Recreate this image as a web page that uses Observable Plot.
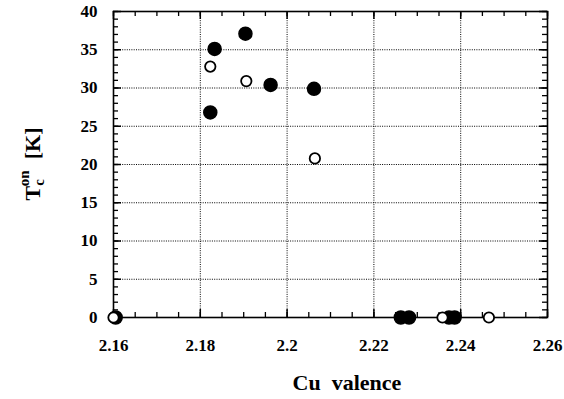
<!DOCTYPE html>
<html>
<head>
<meta charset="utf-8">
<script src="https://cdn.jsdelivr.net/npm/d3@7"></script>
<script src="https://cdn.jsdelivr.net/npm/@observablehq/plot@0.6"></script>
<style>
  html, body { margin: 0; padding: 0; background: white; }
  svg { display: block; }
  svg text, svg tspan { font-family: "Liberation Serif", "Times New Roman", serif !important; }
</style>
</head>
<body>
<div id="chart"></div>
<script>
// ---- data ----
const filledX = [2.1605, 2.1823, 2.1833, 2.1904, 2.1962, 2.2062, 2.2262, 2.2281, 2.2373, 2.2386];
const filledY = [0, 26.8, 35.1, 37.1, 30.4, 29.9, 0, 0, 0, 0];
const openX = [2.1600, 2.1823, 2.1906, 2.2064, 2.2358, 2.2465];
const openY = [0, 32.8, 30.9, 20.8, 0, 0];

const xMajorTicks = [2.16, 2.18, 2.2, 2.22, 2.24, 2.26];
const xTickLabels = ["2.16", "2.18", "2.2", "2.22", "2.24", "2.26"];
const xMinorTicks = d3.range(0, 21).map(i => +(2.16 + i * 0.005).toFixed(3));
const yMajorTicks = [0, 5, 10, 15, 20, 25, 30, 35, 40];
const yTickLabels = ["0", "5", "10", "15", "20", "25", "30", "35", "40"];
const yMinorTicks = d3.range(0, 41);
const xGrid = [2.18, 2.2, 2.22, 2.24];
const yGrid = [5, 10, 15, 20, 25, 30, 35];

const filled = filledX.map((x, i) => ({x, y: filledY[i]}));
const open = openX.map((x, i) => ({x, y: openY[i]}));

// ---- layout ----
const W = 564, H = 399, mT = 11, mB = 82, mL = 113, mR = 17;
const innerH = H - mT - mB, innerW = W - mL - mR;
const font = "Liberation Serif";
const gridStyle = {stroke: "#000", strokeOpacity: 1, strokeWidth: 1, strokeDasharray: "1,1.3"};

const plot = Plot.plot({
  width: W, height: H,
  marginTop: mT, marginBottom: mB, marginLeft: mL, marginRight: mR,
  x: {domain: [2.16, 2.26]},
  y: {domain: [0, 40]},
  style: {background: "white", color: "black"},
  marks: [
    Plot.ruleX(xGrid, gridStyle),
    Plot.ruleY(yGrid, gridStyle),
    // minor ticks (inward)
    Plot.ruleX(xMinorTicks, {stroke: "black", strokeWidth: 1.3, insetTop: innerH - 5}),
    Plot.ruleX(xMinorTicks, {stroke: "black", strokeWidth: 1.3, insetBottom: innerH - 5}),
    Plot.ruleX(xMajorTicks, {stroke: "black", strokeWidth: 1.5, insetTop: innerH - 8}),
    Plot.ruleX(xMajorTicks, {stroke: "black", strokeWidth: 1.5, insetBottom: innerH - 8}),
    Plot.ruleY(yMinorTicks, {stroke: "black", strokeWidth: 1.3, insetRight: innerW - 5}),
    Plot.ruleY(yMinorTicks, {stroke: "black", strokeWidth: 1.3, insetLeft: innerW - 5}),
    Plot.ruleY(yMajorTicks, {stroke: "black", strokeWidth: 1.5, insetRight: innerW - 8}),
    Plot.ruleY(yMajorTicks, {stroke: "black", strokeWidth: 1.5, insetLeft: innerW - 8}),
    // tick labels
    Plot.axisX({ticks: xMajorTicks, tickSize: 0, tickPadding: 21, fontSize: 17, fontWeight: "bold",
      tickFormat: d => xTickLabels[xMajorTicks.findIndex(t => Math.abs(t - d) < 1e-9)], label: null}),
    Plot.axisY({ticks: yMajorTicks, tickSize: 0, tickPadding: 16, fontSize: 17, fontWeight: "bold",
      tickFormat: d => yTickLabels[yMajorTicks.indexOf(d)], label: null}),
    Plot.frame({stroke: "black", strokeWidth: 1.6}),
    Plot.dot(filled, {x: "x", y: "y", r: 6.5, fill: "black", stroke: "black"}),
    Plot.dot(open, {x: "x", y: "y", r: 5.2, fill: "white", stroke: "black", strokeWidth: 1.8})
  ]
});

const svg = d3.select(plot.tagName === "svg" ? plot : plot.querySelector("svg"));
svg.attr("font-family", font);
// x label
svg.append("text")
  .attr("x", 347).attr("y", 390)
  .attr("text-anchor", "middle")
  .attr("font-size", 22).attr("font-weight", "bold")
  .attr("xml:space", "preserve")
  .text("Cu  valence");
// y label: T_c^on [K]
const yl = svg.append("text")
  .attr("transform", "translate(40,164) rotate(-90)")
  .attr("text-anchor", "middle")
  .attr("font-size", 22).attr("font-weight", "bold")
  .attr("xml:space", "preserve");
yl.append("tspan").text("T");
yl.append("tspan").attr("font-size", 15).attr("dy", 4).text("c");
yl.append("tspan").attr("font-size", 15).attr("dx", -7).attr("dy", -15).text("on");
yl.append("tspan").attr("dy", 11).text("  [K]");

svg.selectAll("text, tspan").attr("font-family", font);

document.getElementById("chart").appendChild(plot);
</script>
</body>
</html>
